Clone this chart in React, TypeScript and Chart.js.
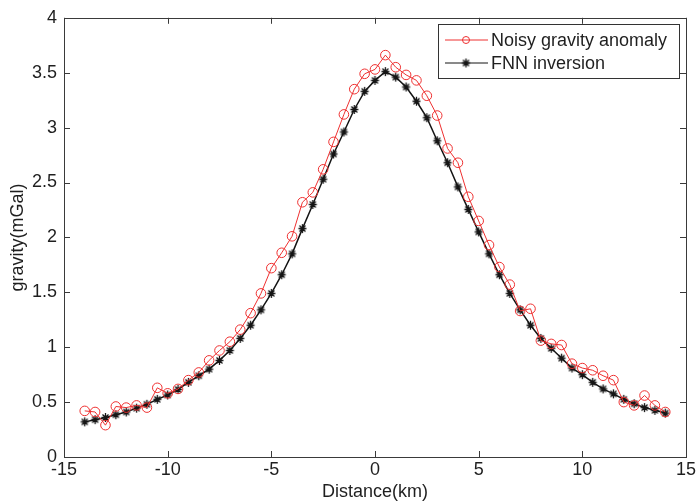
import React, { useEffect, useRef } from "react";
import { Chart, registerables } from "chart.js";

Chart.register(...registerables);

const distanceKm: number[] = [
  -14, -13.5, -13, -12.5, -12, -11.5, -11, -10.5, -10, -9.5, -9, -8.5, -8, -7.5, -7, -6.5,
  -6, -5.5, -5, -4.5, -4, -3.5, -3, -2.5, -2, -1.5, -1, -0.5, 0, 0.5, 1, 1.5, 2, 2.5, 3,
  3.5, 4, 4.5, 5, 5.5, 6, 6.5, 7, 7.5, 8, 8.5, 9, 9.5, 10, 10.5, 11, 11.5, 12, 12.5, 13,
  13.5, 14,
];

const noisyGravity: number[] = [
  0.42, 0.41, 0.29, 0.46, 0.45, 0.47, 0.45, 0.63, 0.58, 0.62, 0.7, 0.77, 0.88, 0.97, 1.05,
  1.16, 1.31, 1.49, 1.72, 1.86, 2.01, 2.32, 2.41, 2.62, 2.87, 3.12, 3.35, 3.49, 3.53, 3.66,
  3.55, 3.48, 3.43, 3.29, 3.11, 2.81, 2.68, 2.37, 2.15, 1.93, 1.73, 1.57, 1.33, 1.35, 1.06,
  1.03, 1.02, 0.85, 0.81, 0.79, 0.74, 0.7, 0.5, 0.47, 0.56, 0.47, 0.41,
];

const fnnInversion: number[] = [
  0.32, 0.34, 0.36, 0.385, 0.41, 0.445, 0.48, 0.525, 0.565, 0.615, 0.68, 0.74, 0.8, 0.88,
  0.97, 1.08, 1.2, 1.34, 1.49, 1.66, 1.85, 2.08, 2.3, 2.53, 2.76, 2.96, 3.165, 3.33, 3.43,
  3.51, 3.46, 3.37, 3.24, 3.09, 2.88, 2.68, 2.46, 2.255, 2.05, 1.85, 1.66, 1.49, 1.34, 1.2,
  1.08, 0.99, 0.9, 0.81, 0.75, 0.68, 0.62, 0.575, 0.525, 0.485, 0.45, 0.425, 0.4,
];

const xTicks: number[] = [-15, -10, -5, 0, 5, 10, 15];
const yTicks: number[] = [0, 0.5, 1, 1.5, 2, 2.5, 3, 3.5, 4];

const seriesNames: string[] = ["Noisy gravity anomaly", "FNN inversion"];

const FONT = "'Liberation Sans', Arial, sans-serif";
const TEXT = "#1f1f1f";
const RED = "#ee3030";
const BLACK = "#151515";

function makeStar(): HTMLCanvasElement {
  const c = document.createElement("canvas");
  c.width = 11;
  c.height = 11;
  const g = c.getContext("2d")!;
  const m = 5.5;
  g.strokeStyle = BLACK;
  g.lineWidth = 1.3;
  g.beginPath();
  g.moveTo(m, 1);
  g.lineTo(m, 10);
  g.moveTo(1.5, m);
  g.lineTo(9.5, m);
  g.moveTo(2.5, 2.5);
  g.lineTo(8.5, 8.5);
  g.moveTo(8.5, 2.5);
  g.lineTo(2.5, 8.5);
  g.stroke();
  g.fillStyle = BLACK;
  g.beginPath();
  g.moveTo(m, m - 3);
  g.lineTo(m + 2.2, m);
  g.lineTo(m, m + 3);
  g.lineTo(m - 2.2, m);
  g.closePath();
  g.fill();
  return c;
}

export default function App() {
  const ref = useRef<HTMLCanvasElement | null>(null);

  useEffect(() => {
    if (!ref.current) return;
    const star = makeStar();

    const boxPlugin = {
      id: "matlabBox",
      afterDraw(chart: any) {
        const { ctx, chartArea, scales } = chart;
        const { left, right, top, bottom } = chartArea;
        ctx.save();
        ctx.strokeStyle = "#3a3a3a";
        ctx.lineWidth = 1;
        ctx.strokeRect(Math.round(left) + 0.5, Math.round(top) + 0.5, Math.round(right - left), Math.round(bottom - top));
        const tl = 6;
        ctx.beginPath();
        xTicks.forEach((v) => {
          const px = Math.round(scales.x.getPixelForValue(v)) + 0.5;
          ctx.moveTo(px, bottom);
          ctx.lineTo(px, bottom - tl);
          ctx.moveTo(px, top);
          ctx.lineTo(px, top + tl);
        });
        yTicks.forEach((v) => {
          const py = Math.round(scales.y.getPixelForValue(v)) + 0.5;
          ctx.moveTo(left, py);
          ctx.lineTo(left + tl, py);
          ctx.moveTo(right, py);
          ctx.lineTo(right - tl, py);
        });
        ctx.stroke();

        // legend
        const lx = 438.5, ly = 24.5, lw = 241, lh = 54;
        ctx.fillStyle = "#ffffff";
        ctx.fillRect(lx, ly, lw, lh);
        ctx.strokeStyle = "#333333";
        ctx.strokeRect(lx, ly, lw, lh);
        const rows = [40, 63];
        ctx.strokeStyle = RED;
        ctx.lineWidth = 1;
        ctx.beginPath();
        ctx.moveTo(445, rows[0]);
        ctx.lineTo(488, rows[0]);
        ctx.stroke();
        ctx.beginPath();
        ctx.arc(466, rows[0], 3.5, 0, Math.PI * 2);
        ctx.stroke();
        ctx.strokeStyle = BLACK;
        ctx.lineWidth = 1;
        ctx.beginPath();
        ctx.moveTo(445, rows[1]);
        ctx.lineTo(488, rows[1]);
        ctx.stroke();
        ctx.drawImage(star, 466 - 5.5, rows[1] - 5.5);
        ctx.fillStyle = TEXT;
        ctx.font = `18px ${FONT}`;
        ctx.textBaseline = "middle";
        ctx.textAlign = "left";
        ctx.fillText(seriesNames[0], 491, rows[0] + 1);
        ctx.fillText(seriesNames[1], 491, rows[1] + 1);
        ctx.restore();
      },
    };

    const chart = new Chart(ref.current, {
      type: "line",
      data: {
        datasets: [
          {
            label: seriesNames[0],
            data: distanceKm.map((x, i) => ({ x, y: noisyGravity[i] })),
            borderColor: RED,
            borderWidth: 1,
            backgroundColor: "rgba(0,0,0,0)",
            pointStyle: "circle",
            pointRadius: 4.8,
            pointBorderWidth: 1,
            pointBorderColor: RED,
            pointBackgroundColor: "rgba(0,0,0,0)",
            tension: 0,
          },
          {
            label: seriesNames[1],
            data: distanceKm.map((x, i) => ({ x, y: fnnInversion[i] })),
            borderColor: BLACK,
            borderWidth: 1.5,
            backgroundColor: BLACK,
            pointStyle: star as any,
            pointRadius: 5,
            tension: 0,
          },
        ],
      },
      options: {
        responsive: false,
        animation: false,
        events: [],
        layout: { padding: { left: 0, right: 14, top: 10, bottom: 0 } },
        plugins: {
          legend: { display: false },
          tooltip: { enabled: false },
        },
        scales: {
          x: {
            type: "linear",
            min: -15,
            max: 15,
            afterBuildTicks: (s: any) => {
              s.ticks = xTicks.map((v) => ({ value: v }));
            },
            afterFit: (s: any) => {
              s.height = 46;
            },
            grid: { display: false, drawTicks: false },
            border: { display: false },
            ticks: {
              font: { family: FONT, size: 18 },
              color: TEXT,
              padding: 2,
              maxRotation: 0,
              autoSkip: false,
              callback: (v: any) => String(v),
            },
            title: {
              display: true,
              text: "Distance(km)",
              font: { family: FONT, size: 18 },
              color: TEXT,
              padding: { top: 0, bottom: 0 },
            },
          },
          y: {
            type: "linear",
            min: 0,
            max: 4,
            afterBuildTicks: (s: any) => {
              s.ticks = yTicks.map((v) => ({ value: v }));
            },
            afterFit: (s: any) => {
              s.width = 64;
            },
            grid: { display: false, drawTicks: false },
            border: { display: false },
            ticks: {
              font: { family: FONT, size: 18 },
              color: TEXT,
              padding: 7,
              autoSkip: false,
              callback: (v: any) => String(v),
            },
            title: {
              display: true,
              text: "gravity(mGal)",
              font: { family: FONT, size: 18 },
              color: TEXT,
              padding: { top: 7, bottom: 0 },
            },
          },
        },
      },
      plugins: [boxPlugin],
    });

    return () => chart.destroy();
  }, []);

  return (
    <div style={{ position: "fixed", left: 0, top: 0, width: 700, height: 503, background: "#fff" }}>
      <canvas ref={ref} width={700} height={503} style={{ display: "block", width: 700, height: 503 }} />
    </div>
  );
}
